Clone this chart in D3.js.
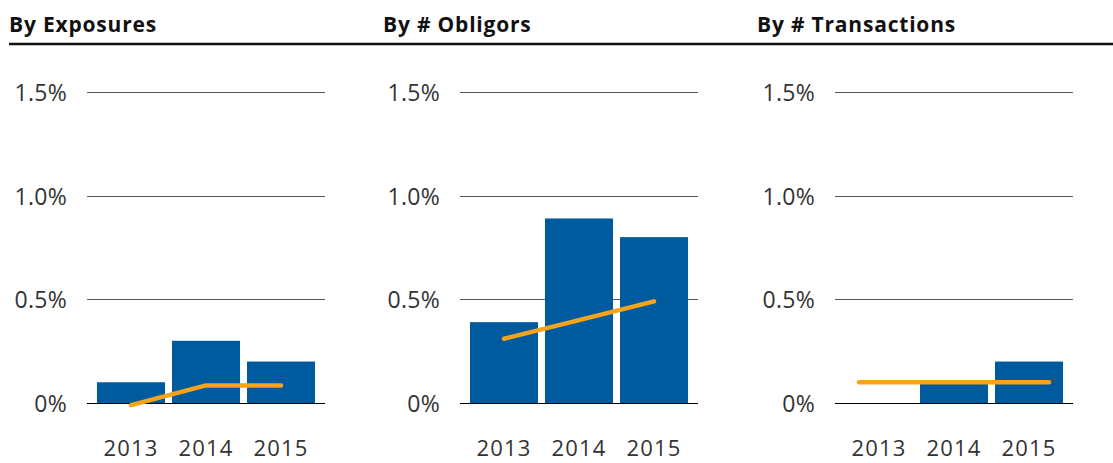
<!DOCTYPE html>
<html>
<head>
<meta charset="utf-8">
<script src="https://cdn.jsdelivr.net/npm/d3@7"></script>
<style>
  body { margin: 0; background: #fff; }
  svg { display: block; }
  .title { font-family: "Open Sans", sans-serif; font-weight: 700; font-size: 21px; letter-spacing: 0.8px; fill: #111; }
  .tick-label { font-family: "Open Sans", sans-serif; font-weight: 400; font-size: 23px; letter-spacing: 0.3px; fill: #333; }
  .year-label { font-family: "Open Sans", sans-serif; font-weight: 400; font-size: 22px; letter-spacing: 1.2px; fill: #333; }
</style>
</head>
<body>
<svg width="1113" height="463"></svg>
<script>
const YEARS = ["2013", "2014", "2015"];
const PANEL_TITLES = ["By Exposures", "By # Obligors", "By # Transactions"];
const BAR_EXPOSURES = [0.1, 0.3, 0.2];
const BAR_OBLIGORS = [0.39, 0.89, 0.8];
const BAR_TRANSACTIONS = [0, 0.1, 0.2];
const LINE_EXPOSURES = [-0.01, 0.085, 0.085];
const LINE_OBLIGORS = [0.31, 0.4, 0.49];
const LINE_TRANSACTIONS = [0.1, 0.1, 0.1];
const Y_TICKS = [0, 0.5, 1.0, 1.5];
const Y_TICK_LABELS = ["0%", "0.5%", "1.0%", "1.5%"];

const panels = PANEL_TITLES.map((title, i) => ({
  title,
  bars: [BAR_EXPOSURES, BAR_OBLIGORS, BAR_TRANSACTIONS][i],
  line: [LINE_EXPOSURES, LINE_OBLIGORS, LINE_TRANSACTIONS][i],
}));

// layout
const panelLeft = [87, 460, 835];
const titleLeft = [9, 383, 757];
const plotWidth = 238;
const lineOverhang = [0, 0, 20];

const yScale = d3.scaleLinear().domain([0, 1.5]).range([403, 92]);

const svg = d3.select("svg");

// header rule
svg.append("line")
  .attr("x1", 9).attr("x2", 1113)
  .attr("y1", 44).attr("y2", 44)
  .attr("stroke", "#111")
  .attr("stroke-width", 2.5);

panels.forEach((panel, i) => {
  const x0 = panelLeft[i];
  const xScale = d3.scaleBand()
    .domain(YEARS)
    .range([x0, x0 + plotWidth])
    .paddingInner(0.093)
    .paddingOuter(0.133);

  svg.append("text")
    .classed("title", true)
    .attr("x", titleLeft[i])
    .attr("y", 32)
    .text(panel.title);

  const g = svg.append("g");

  // gridlines
  g.selectAll(".grid")
    .data(Y_TICKS)
    .enter()
    .append("line")
    .attr("x1", x0)
    .attr("x2", x0 + plotWidth)
    .attr("y1", (d) => Math.round(yScale(d)) + 0.5)
    .attr("y2", (d) => Math.round(yScale(d)) + 0.5)
    .attr("stroke", (d) => (d === 0 ? "#000" : "#555"))
    .attr("stroke-width", 1.2);

  g.selectAll(".tick-label")
    .data(Y_TICKS)
    .enter()
    .append("text")
    .classed("tick-label", true)
    .attr("x", x0 - 20)
    .attr("y", (d) => yScale(d) + 9)
    .attr("text-anchor", "end")
    .text((d, j) => Y_TICK_LABELS[j]);

  g.selectAll(".bar")
    .data(panel.bars)
    .enter()
    .append("rect")
    .classed("bar", true)
    .attr("x", (d, j) => xScale(YEARS[j]))
    .attr("width", xScale.bandwidth())
    .attr("y", (d) => yScale(d))
    .attr("height", (d) => yScale(0) - yScale(d))
    .attr("fill", "#005a9e");

  g.selectAll(".year-label")
    .data(YEARS)
    .enter()
    .append("text")
    .classed("year-label", true)
    .attr("x", (d) => xScale(d) + xScale.bandwidth() / 2)
    .attr("y", 456)
    .attr("text-anchor", "middle")
    .text((d) => d);

  const half = xScale.bandwidth() / 2;
  const lineX = d3.scalePoint()
    .domain(YEARS)
    .range([
      xScale(YEARS[0]) + half - lineOverhang[i],
      xScale(YEARS[YEARS.length - 1]) + half + lineOverhang[i],
    ]);

  g.append("path")
    .datum(panel.line)
    .attr("fill", "none")
    .attr("stroke", "#f5a31a")
    .attr("stroke-width", 4.5)
    .attr("stroke-linecap", "round")
    .attr("stroke-linejoin", "round")
    .attr("d", d3.line()
      .x((d, j) => lineX(YEARS[j]))
      .y((d) => yScale(d)));
});
</script>
</body>
</html>
